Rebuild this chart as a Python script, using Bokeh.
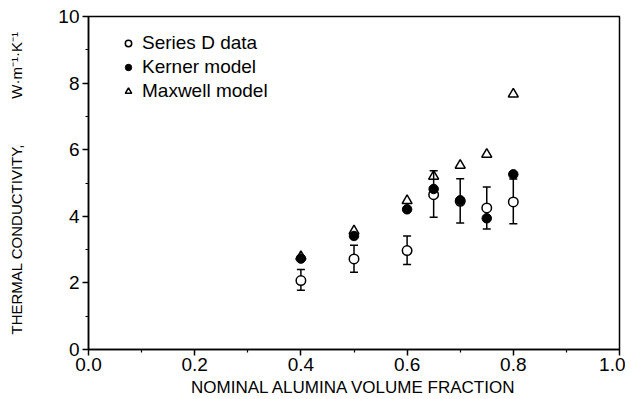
from bokeh.plotting import figure
from bokeh.models import (ColumnDataSource, Range1d, FixedTicker, Whisker, TeeHead,
                          Legend, LegendItem, NumeralTickFormatter)
from bokeh.embed import file_html
from bokeh.resources import INLINE

# ---- data ----
fraction = [0.4, 0.5, 0.6, 0.65, 0.7, 0.75, 0.8]
series_d = [2.07, 2.72, 2.97, 4.65, 4.45, 4.25, 4.43]
series_d_low = [1.78, 2.32, 2.55, 3.97, 3.80, 3.62, 3.78]
series_d_high = [2.40, 3.13, 3.41, 5.37, 5.13, 4.88, 5.12]
kerner = [2.73, 3.41, 4.21, 4.82, 4.48, 3.94, 5.26]
maxwell = [2.79, 3.56, 4.47, 5.20, 5.53, 5.86, 7.67]

x_ticks = [0.0, 0.2, 0.4, 0.6, 0.8, 1.0]
x_minor = [0.1, 0.3, 0.5, 0.7, 0.9]
y_ticks = [0, 2, 4, 6, 8, 10]
y_minor = [1, 3, 5, 7, 9]

FONT = "Liberation Sans"

src = ColumnDataSource(dict(x=fraction, d=series_d, lo=series_d_low, hi=series_d_high,
                            k=kerner, m=maxwell))

p = figure(frame_width=531, frame_height=333, output_backend="svg", toolbar_location=None,
           x_range=Range1d(0, 1), y_range=Range1d(0, 10),
           min_border_left=88, min_border_top=16, min_border_right=6, min_border_bottom=0)
p.background_fill_color = "white"
p.border_fill_color = "white"
p.outline_line_color = "black"
p.outline_line_width = 1.5
p.xgrid.visible = False
p.ygrid.visible = False

p.xaxis.ticker = FixedTicker(ticks=x_ticks, minor_ticks=x_minor)
p.yaxis.ticker = FixedTicker(ticks=y_ticks, minor_ticks=y_minor)
p.xaxis.formatter = NumeralTickFormatter(format="0.0")
p.yaxis.formatter = NumeralTickFormatter(format="0")

for ax in (p.xaxis[0], p.yaxis[0]):
    ax.axis_line_color = "black"
    ax.axis_line_width = 1.5
    ax.major_tick_line_color = "black"
    ax.minor_tick_line_color = "black"
    ax.major_tick_line_width = 1.5
    ax.minor_tick_line_width = 1.2
    ax.major_tick_in = 0
    ax.major_tick_out = 6
    ax.minor_tick_in = 0
    ax.minor_tick_out = 3
    ax.major_label_text_font = FONT
    ax.major_label_text_font_size = "19px"
    ax.major_label_text_color = "black"
    ax.axis_label_text_font = FONT
    ax.axis_label_text_font_style = "normal"
    ax.axis_label_text_color = "black"

p.xaxis.major_label_standoff = 2
p.xaxis.axis_label = "NOMINAL ALUMINA VOLUME FRACTION"
p.xaxis.axis_label_text_font_size = "17px"
p.xaxis.axis_label_standoff = 4

p.yaxis.major_label_standoff = 3
p.yaxis.axis_label = "THERMAL CONDUCTIVITY," + "\u00a0" * 11 + "W\u00b7m\u207b\u00b9\u00b7K\u207b\u00b9"
p.yaxis.axis_label_text_font_size = "15px"
p.yaxis.axis_label_standoff = 30

whisk = Whisker(source=src, base="x", upper="hi", lower="lo", dimension="height",
                line_color="black", line_width=1.5, level="underlay",
                upper_head=TeeHead(size=8, line_color="black", line_width=1.5),
                lower_head=TeeHead(size=8, line_color="black", line_width=1.5))
p.add_layout(whisk)

r_max = p.scatter("x", "m", source=src, marker="triangle", size=10,
                  line_color="black", line_width=1.5, fill_color=None)
r_d = p.scatter("x", "d", source=src, marker="circle", size=9.5,
                line_color="black", line_width=1.5, fill_color="white")
r_k = p.scatter("x", "k", source=src, marker="circle", size=9.5,
                line_color="black", line_width=1, fill_color="black")

legend = Legend(items=[LegendItem(label="Series D data", renderers=[r_d]),
                       LegendItem(label="Kerner model", renderers=[r_k]),
                       LegendItem(label="Maxwell model", renderers=[r_max])],
                location=(32, 246), orientation="vertical",
                glyph_width=16, glyph_height=24, label_height=24, spacing=0,
                padding=0, margin=0, label_standoff=6,
                label_text_font=FONT, label_text_font_size="19px",
                label_text_color="black",
                border_line_color=None, background_fill_alpha=0)
p.add_layout(legend, "center")

open("out.html", "w").write(file_html(p, INLINE))
